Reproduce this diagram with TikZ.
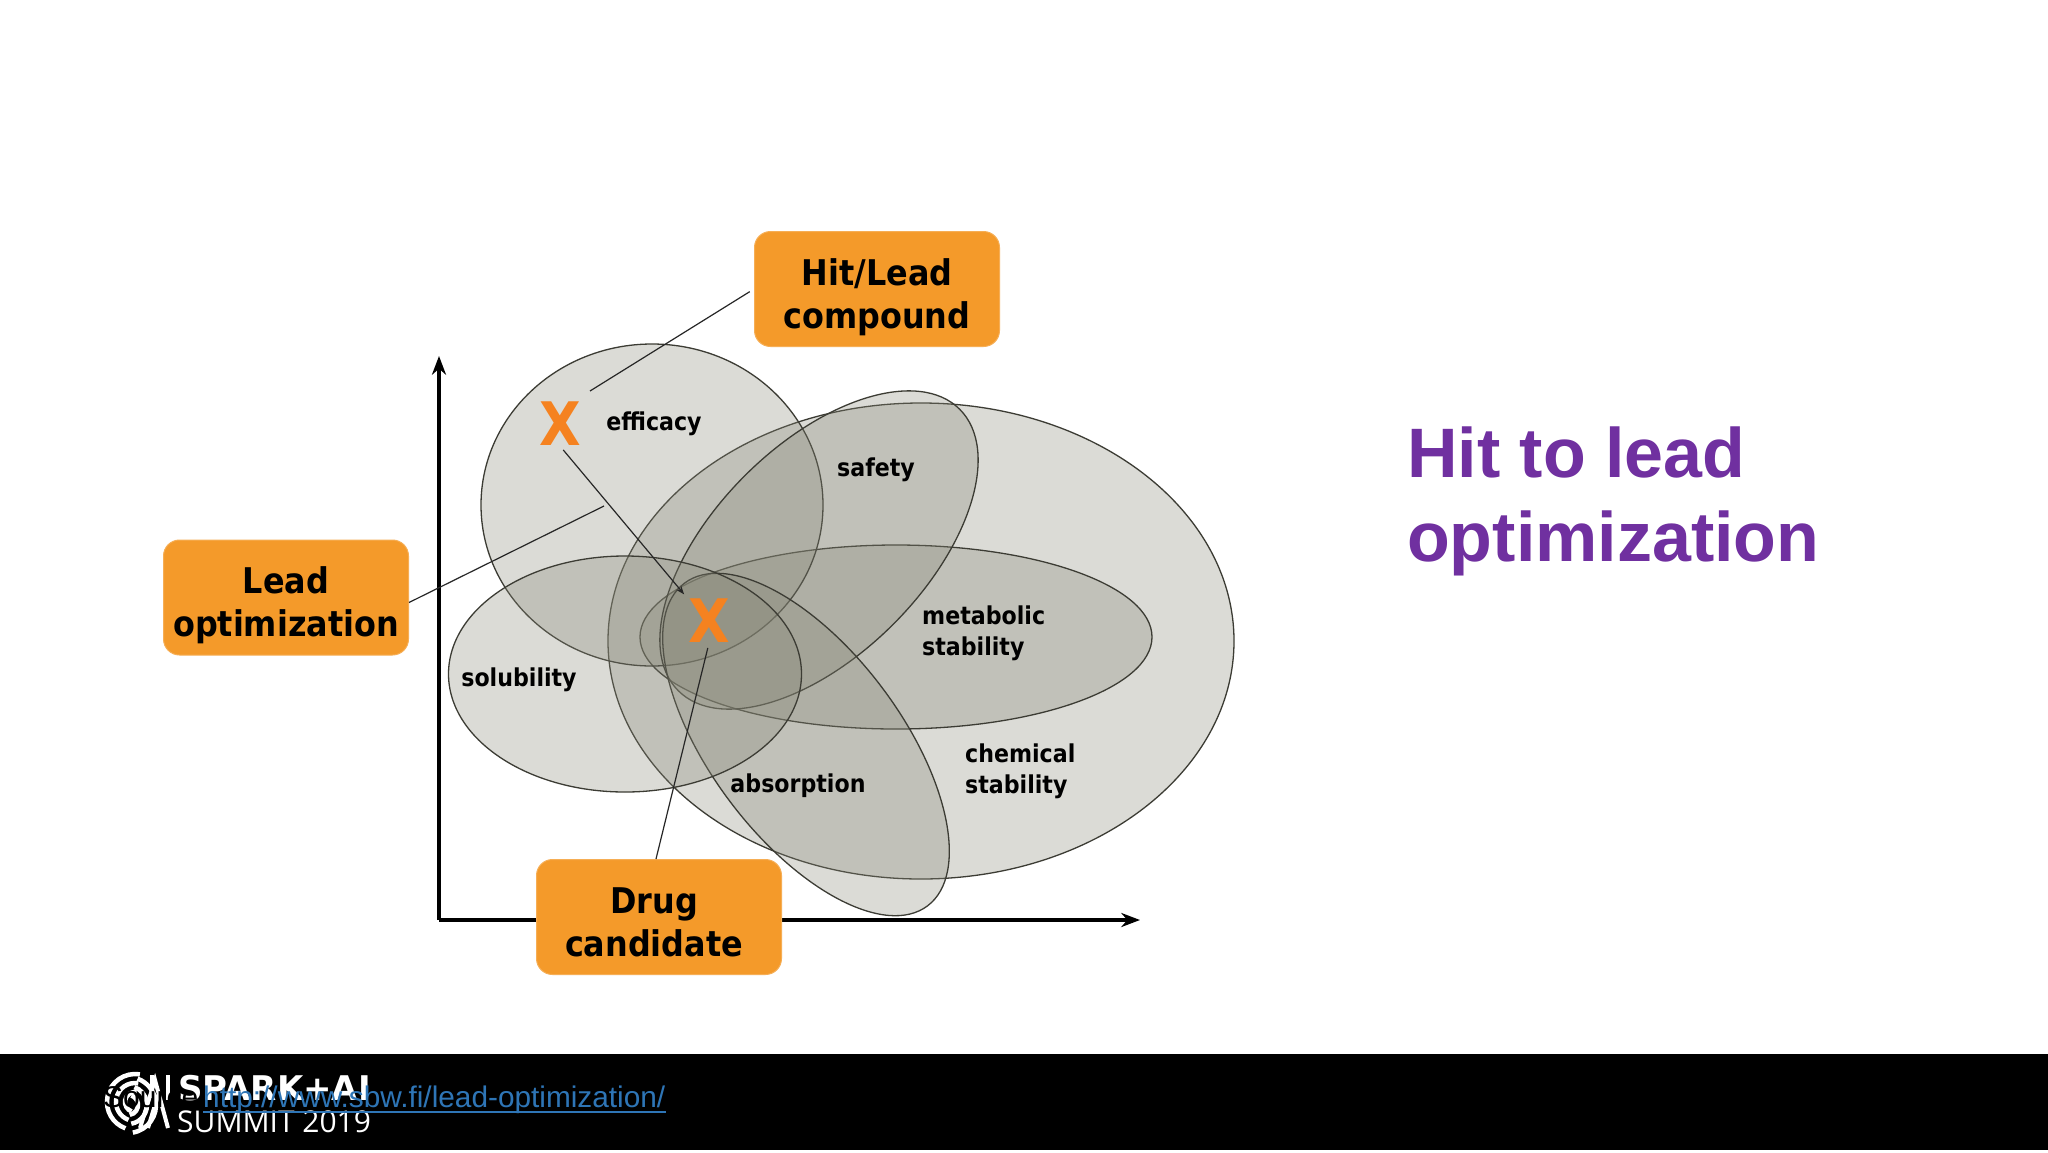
\documentclass[tikz,border=0pt]{standalone}
\usepackage{fontspec}
\setmainfont{Liberation Sans}
\newfontfamily\cndfont{DejaVu Sans Condensed}
\newfontfamily\logofont{Open Sans}
\newfontfamily\logobold{DejaVu Sans}
\usetikzlibrary{arrows.meta}
\usetikzlibrary{positioning}
\definecolor{boxorange}{HTML}{F49A2A}
\definecolor{xorange}{HTML}{F58220}
\definecolor{blobfill}{RGB}{136,136,120}
\definecolor{blobline}{HTML}{3C3C34}
\definecolor{titlepurple}{HTML}{7030A0}
\definecolor{linkblue}{HTML}{2E75B6}
\newcommand{\stagetext}[2]{\raisebox{0pt}[35pt][0pt]{#1}\\\raisebox{0pt}[0pt][0pt]{#2}}
\tikzset{
  stagebox/.style={draw=boxorange!80!white, line width=1pt, fill=boxorange, rounded corners=16pt, minimum width=245pt, minimum height=115pt, align=center, inner sep=0pt, font=\cndfont\bfseries\fontsize{35.4}{43}\selectfont},
  proptext/.style={align=left, inner sep=0pt, font=\cndfont\bfseries\fontsize{24.6}{31}\selectfont},
  xmark/.style={text=xorange, inner sep=0pt, font=\cndfont\bfseries\fontsize{60}{60}\selectfont},
  blob/.style={fill=blobfill, fill opacity=0.3, draw=blobline, line width=1.3pt},
  thinline/.style={draw=black!85, line width=1.2pt},
}
\begin{document}
\begin{tikzpicture}[x=1pt,y=-1pt,>=Stealth]
    \useasboundingbox (0,0) rectangle (2048,1152);
    \fill[white] (0,0) rectangle (2048,1152);

    % axes
    \coordinate (origin) at (439,920);
    \coordinate (ytop) at (439,356);
    \coordinate (xend) at (1140,920);
    \draw[->, line width=3.5pt] (origin) -- (ytop);
    \draw[->, line width=3.5pt] (origin) -- (xend);

    % property regions
    \draw[blob] (921,641) ellipse [x radius=313pt, y radius=238pt];
    \draw[blob] (896,637) ellipse [x radius=256pt, y radius=92pt];
    \draw[blob] (652,505) ellipse [x radius=171pt, y radius=161pt];
    \draw[blob] (819,550) ellipse [x radius=199pt, y radius=105pt, rotate=45];
    \draw[blob] (806,744.5) ellipse [x radius=202pt, y radius=95pt, rotate=-53];
    \draw[blob] (625,674) ellipse [x radius=176.5pt, y radius=118pt];

    \node[proptext] (efficacy) at (654,424) {efficacy};
    \node[proptext] (safety) at (876,470) {safety};
    \node[proptext, anchor=west] (metabolic) at (922,633) {metabolic\\stability};
    \node[proptext] (solubility) at (519,680) {solubility};
    \node[proptext] (absorption) at (798,786) {absorption};
    \node[proptext, anchor=west] (chemical) at (965,771) {chemical\\stability};

    \node[xmark] (xhit) at (560,424) {X};
    \node[xmark] (xdrug) at (709,621) {X};

    \node[stagebox] (hitlead) at (877,289) {\stagetext{Hit/Lead}{compound}};
    \node[stagebox] (leadopt) at (286,597.5) {\stagetext{Lead}{optimization}};
    \node[stagebox] (drug) at (659,917) {\stagetext{Drug\hspace{10pt}}{candidate\hspace{10pt}}};

    \coordinate (hitend) at (590,391);
    \coordinate (leadend) at (604,506);
    \draw[thinline, shorten <=5pt] (hitlead.west) -- (hitend);
    \draw[thinline] ([yshift=-5pt]leadopt.east) -- (leadend);
    \draw[thinline, shorten >=5pt] ([xshift=-3pt]drug.north) -- (xdrug.south);
    \draw[thinline, ->, shorten <=5pt, shorten >=6pt] (xhit.south) -- (xdrug.north west);

    \node[anchor=base west, inner sep=0pt, text=titlepurple, align=left, font=\bfseries\fontsize{70}{84}\selectfont] (title) at (1407,561) {Hit to lead\\optimization};

    % footer
    \fill[black] (0,1054) rectangle (2048,1150);
    \foreach \r in {10,19,28} {
      \draw[white, line width=4.5pt] (135,1102) ++(80:\r pt) arc [start angle=80, end angle=250, radius=\r pt];
      \draw[white, line width=4.5pt] (128,1105) ++(-80:\r pt) arc [start angle=-80, end angle=70, radius=\r pt];
    }
    \draw[white, line width=4pt] (140,1128) -- (155,1080) -- (168,1128);
    \draw[white, line width=4pt] (148,1128) -- (158,1095);
    \draw[white, line width=4pt] (152,1075) -- (152,1098);
    \draw[white, line width=4pt] (168,1075) -- (168,1100);

    \node[anchor=base west, inner sep=0pt, text=white, font=\logobold\bfseries\fontsize{34}{35}\selectfont] (spark) at (178,1100) {SPARK+AI};
    \node[anchor=base west, inner sep=0pt, text=white, font=\logofont\fontsize{30}{30}\selectfont] (summit) at (177,1132) {SUMMIT 2019};
    \node[anchor=base west, inner sep=0pt, text=black, font=\fontsize{30}{30}\selectfont] (source) at (103,1107) {Source:};
    \node[anchor=base west, inner sep=0pt, text=linkblue, font=\fontsize{29.8}{30}\selectfont] (link) at (203,1107) {http://www.sbw.fi/lead-optimization/};
    \draw[linkblue, line width=2.5pt] (link.base west) ++(0,5) -- ([yshift=-5pt]link.base east);
\end{tikzpicture}
\end{document}
